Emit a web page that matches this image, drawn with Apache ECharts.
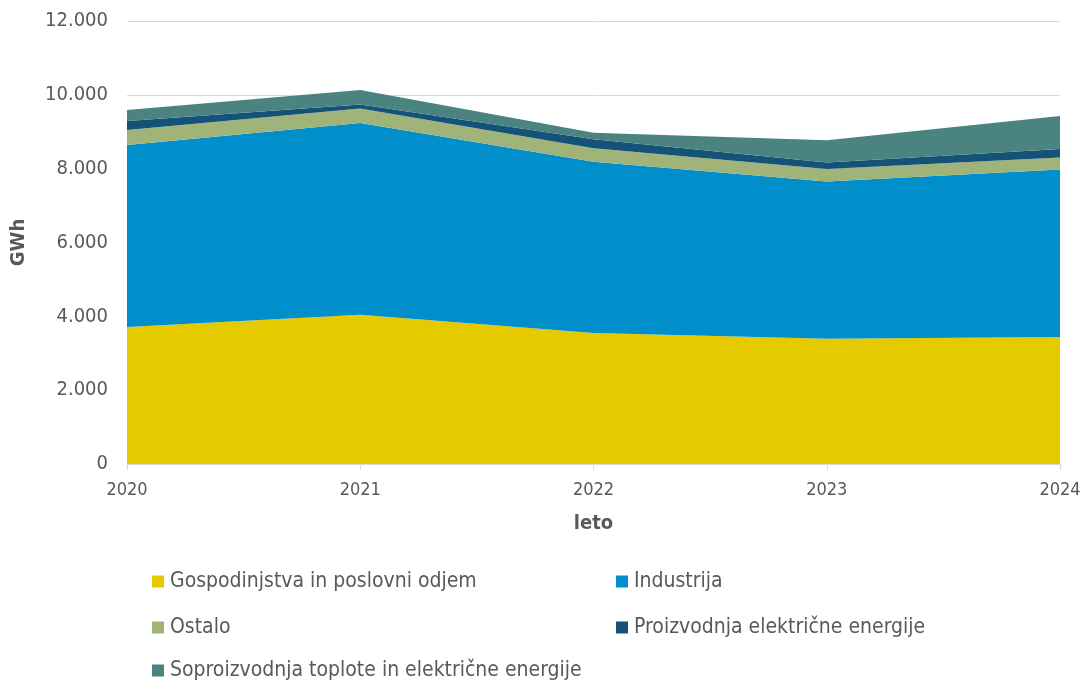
<!DOCTYPE html>
<html>
<head>
<meta charset="utf-8">
<script src="https://cdn.jsdelivr.net/npm/echarts@6/dist/echarts.min.js"></script>
<style>
  html, body { margin: 0; padding: 0; background: #fff; }
  #main { width: 1087px; height: 680px; }
</style>
</head>
<body>
<div id="main"></div>
<script>
var years = ['2020', '2021', '2022', '2023', '2024'];
var gospodinjstva = [3710, 4040, 3550, 3390, 3440];
var industrija = [4930, 5200, 4640, 4260, 4540];
var ostalo = [410, 390, 360, 340, 320];
var proizvodnja = [240, 110, 250, 180, 230];
var soproizvodnja = [300, 390, 170, 600, 900];

var names = [
    'Gospodinjstva in poslovni odjem',
    'Industrija',
    'Ostalo',
    'Proizvodnja električne energije',
    'Soproizvodnja toplote in električne energije'
];
var colors = ['#E6CA00', '#008FCA', '#A0B47A', '#145377', '#4A837F'];
var values = [gospodinjstva, industrija, ostalo, proizvodnja, soproizvodnja];

var chart = echarts.init(document.getElementById('main'));

var font = 'DejaVu Sans Condensed';
var textColor = '#595959';

function fmt(v) {
    return String(v).replace(/\B(?=(\d{3})+(?!\d))/g, '.');
}

var series = [];
for (var i = 0; i < names.length; i++) {
    series.push({
        name: names[i],
        type: 'line',
        stack: 'total',
        symbol: 'none',
        lineStyle: { width: 0 },
        areaStyle: { color: colors[i], opacity: 1 },
        itemStyle: { color: colors[i] },
        data: values[i]
    });
}

// legend positions: two columns, three rows
var legendPos = [[147, 566], [611, 566], [147, 612], [611, 612], [147, 655]];
var legends = [];
for (var j = 0; j < names.length; j++) {
    legends.push({
        left: legendPos[j][0],
        top: legendPos[j][1],
        data: [names[j]],
        icon: 'rect',
        itemWidth: 12,
        itemHeight: 12,
        itemGap: 4,
        textStyle: { fontFamily: font, fontSize: 21, color: textColor, padding: [0, 0, 0, 1] }
    });
}

var option = {
    animation: false,
    backgroundColor: '#fff',
    textStyle: { fontFamily: font },
    grid: {
        left: 127,
        right: 27,
        top: 21,
        bottom: 216,
        containLabel: false
    },
    legend: legends,
    xAxis: {
        type: 'category',
        boundaryGap: false,
        data: years,
        name: 'leto',
        nameLocation: 'middle',
        nameGap: 50,
        nameTextStyle: { fontFamily: font, fontSize: 20, fontWeight: 'bold', color: textColor },
        axisLine: { lineStyle: { color: '#d9d9d9', width: 1 } },
        axisTick: { show: true, length: 6, lineStyle: { color: '#d9d9d9' } },
        axisLabel: { fontFamily: font, fontSize: 18, color: textColor, margin: 17 }
    },
    yAxis: {
        type: 'value',
        min: 0,
        max: 12000,
        interval: 2000,
        name: 'GWh',
        nameLocation: 'middle',
        nameRotate: 90,
        nameGap: 98,
        nameTextStyle: { fontFamily: font, fontSize: 20, fontWeight: 'bold', color: textColor },
        axisLine: { show: false },
        axisTick: { show: false },
        splitLine: { lineStyle: { color: '#d9d9d9', width: 1 } },
        axisLabel: {
            fontFamily: font,
            fontSize: 20,
            color: textColor,
            margin: 19,
            formatter: fmt
        }
    },
    series: series
};

chart.setOption(option);
</script>
</body>
</html>
